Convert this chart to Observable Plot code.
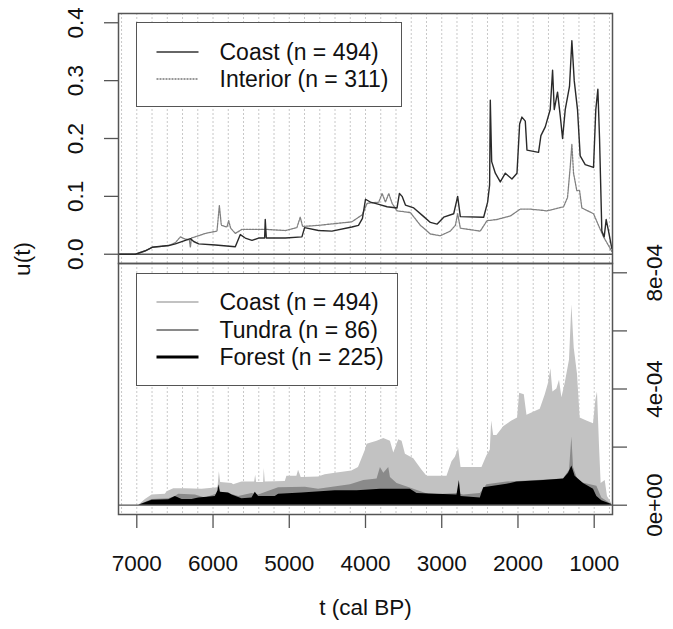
<!DOCTYPE html>
<html>
<head>
<meta charset="utf-8">
<script src="https://cdn.jsdelivr.net/npm/d3@7"></script>
<script src="https://cdn.jsdelivr.net/npm/@observablehq/plot@0.6"></script>
<style>
  body { margin: 0; background: #fff; font-family: "Liberation Sans", Arial, sans-serif; }
  #wrap { position: relative; width: 673px; height: 629px; overflow: hidden; background: #fff; }
  #wrap svg { position: absolute; left: 0; }
  .legend { position: absolute; background: #fff; border: 1.5px solid #555; box-sizing: border-box; font-size: 23px; color: #111; z-index: 5; }
  .row { position: absolute; left: 0; height: 28px; line-height: 28px; white-space: nowrap; width: 100%; }
  .ylab { position: absolute; font-size: 22.5px; color: #111; transform: translate(-50%, -50%) rotate(-90deg); white-space: nowrap; z-index: 5; }
</style>
</head>
<body>
<div id="wrap"></div>
<script>
// ---------- data (t in cal BP, u(t)) ----------
const coastTop = [[7236,0],[7018,0],[6887,0.006],[6799,0.012],[6581,0.015],[6494,0.018],[6363,0.024],[6297,0.027],[6254,0.022],[6188,0.018],[5970,0.016],[5708,0.013],[5642,0.034],[5577,0.028],[5489,0.024],[5402,0.028],[5323,0.028],[5315,0.06],[5301,0.028],[5052,0.028],[4834,0.03],[4799,0.046],[4616,0.041],[4441,0.04],[4179,0.047],[4092,0.05],[4040,0.062],[4000,0.095],[3960,0.092],[3935,0.09],[3848,0.087],[3717,0.082],[3586,0.08],[3555,0.105],[3520,0.1],[3476,0.085],[3367,0.08],[3236,0.065],[3149,0.055],[3062,0.052],[2974,0.064],[2843,0.07],[2791,0.1],[2756,0.065],[2450,0.064],[2398,0.09],[2372,0.12],[2363,0.266],[2345,0.16],[2297,0.14],[2232,0.125],[2166,0.14],[2079,0.13],[2013,0.14],[1978,0.225],[1948,0.237],[1904,0.23],[1882,0.18],[1730,0.176],[1699,0.205],[1642,0.22],[1577,0.25],[1546,0.318],[1524,0.25],[1481,0.28],[1446,0.24],[1415,0.2],[1380,0.25],[1324,0.29],[1293,0.369],[1262,0.3],[1219,0.25],[1184,0.17],[1118,0.155],[1009,0.15],[979,0.25],[952,0.285],[930,0.2],[900,0.04],[869,0.03],[843,0.06],[812,0.04],[769,0.01]];

const interiorTop = [[7236,0],[7018,0],[6887,0.006],[6799,0.012],[6581,0.015],[6494,0.02],[6428,0.03],[6363,0.026],[6310,0.025],[6297,0.012],[6284,0.028],[6188,0.032],[6101,0.036],[5948,0.04],[5917,0.084],[5891,0.05],[5817,0.047],[5795,0.058],[5769,0.045],[5708,0.036],[5620,0.043],[5315,0.043],[5052,0.041],[4900,0.046],[4856,0.064],[4825,0.048],[4616,0.05],[4397,0.053],[4179,0.056],[4044,0.068],[3979,0.088],[3826,0.09],[3782,0.105],[3738,0.09],[3695,0.105],[3651,0.088],[3586,0.075],[3411,0.072],[3280,0.05],[3149,0.035],[3018,0.032],[2887,0.04],[2821,0.05],[2791,0.07],[2756,0.045],[2494,0.04],[2407,0.058],[2276,0.06],[2101,0.066],[1970,0.078],[1839,0.078],[1620,0.075],[1402,0.082],[1350,0.098],[1315,0.15],[1293,0.19],[1271,0.14],[1228,0.11],[1192,0.11],[1162,0.08],[1009,0.07],[944,0.05],[878,0.03],[812,0.015],[769,0.005]];

// bottom panel values in units of 1e-4
const coastArea = [[7236,0],[6974,0],[6887,0.2],[6799,0.35],[6625,0.38],[6603,0.46],[6515,0.57],[6363,0.57],[6145,0.55],[5935,0.6],[5917,1.15],[5900,0.78],[5751,0.75],[5730,0.7],[5620,0.8],[5454,0.8],[5441,1.03],[5428,0.78],[5336,0.78],[5328,1.26],[5315,0.8],[5052,0.82],[5031,1.0],[4900,1.0],[4878,1.2],[4843,0.95],[4616,0.97],[4529,1.05],[4397,1.1],[4179,1.18],[4092,1.3],[4000,1.9],[3979,2.1],[3848,2.2],[3760,2.3],[3673,2.2],[3629,1.8],[3564,2.25],[3520,2.2],[3476,1.75],[3367,1.6],[3258,1.2],[3193,1.0],[2931,1.0],[2865,1.5],[2821,1.65],[2778,1.95],[2747,1.3],[2472,1.3],[2407,1.7],[2363,1.9],[2345,2.9],[2319,2.4],[2276,2.4],[2188,2.7],[2079,2.9],[2005,3.0],[1978,3.85],[1917,3.8],[1882,3.1],[1708,3.3],[1642,3.8],[1599,4.2],[1568,4.7],[1542,3.9],[1490,4.0],[1455,4.3],[1424,3.7],[1380,4.2],[1324,5.0],[1293,6.9],[1262,5.4],[1219,4.5],[1184,3.0],[1097,2.9],[1009,2.8],[979,3.6],[957,3.9],[930,2.0],[909,0.75],[856,0.85],[826,0.3],[769,0.05]];

const tundraArea = [[7236,0],[6974,0],[6799,0.2],[6581,0.22],[6494,0.3],[6450,0.38],[6232,0.35],[6101,0.25],[5926,0.4],[5913,0.7],[5900,0.45],[5795,0.4],[5664,0.3],[5489,0.4],[5402,0.35],[5140,0.6],[4790,0.62],[4616,0.55],[4197,0.7],[4022,0.85],[3848,0.9],[3804,1.3],[3760,1.1],[3695,1.3],[3673,0.95],[3586,0.75],[3367,0.55],[3149,0.35],[2800,0.4],[2712,0.35],[2494,0.4],[2407,0.7],[2145,0.8],[1752,0.85],[1402,0.9],[1324,1.2],[1293,2.35],[1271,1.3],[1206,0.8],[965,0.65],[900,0.25],[769,0.02]];

const forestArea = [[7236,0],[6974,0],[6799,0.17],[6581,0.19],[6494,0.3],[6406,0.2],[6275,0.2],[6188,0.25],[5970,0.3],[5935,0.5],[5926,0.7],[5904,0.45],[5795,0.42],[5751,0.35],[5620,0.22],[5489,0.25],[5446,0.45],[5402,0.3],[5184,0.3],[5140,0.38],[4834,0.42],[4397,0.5],[4109,0.5],[3804,0.55],[3411,0.55],[3324,0.4],[2800,0.35],[2769,0.85],[2747,0.3],[2494,0.25],[2450,0.6],[2145,0.72],[2013,0.8],[1664,0.85],[1402,0.9],[1337,1.1],[1293,1.35],[1250,1.0],[1140,0.75],[1009,0.55],[965,0.3],[900,0.15],[769,0.02]];

const xTicks = [7000, 6000, 5000, 4000, 3000, 2000, 1000];
const xTickLabels = ["7000", "6000", "5000", "4000", "3000", "2000", "1000"];
const gridT = [7200, 7000, 6800, 6600, 6400, 6200, 6000, 5800, 5600, 5400, 5200, 5000, 4800, 4600, 4400, 4200, 4000, 3800, 3600, 3400, 3200, 3000, 2800, 2600, 2400, 2200, 2000, 1800, 1600, 1400, 1200, 1000, 800];
const topYTicks = [0, 0.1, 0.2, 0.3, 0.4];
const topYLabels = ["0.0", "0.1", "0.2", "0.3", "0.4"];
const botYTicks = [0, 2, 4, 6, 8];            // x 1e-4
const botYLabelTicks = [0, 4, 8];
const botYLabels = ["0e+00", "4e-04", "8e-04"];

const topLegend = [
  {label: "Coast (n = 494)", stroke: "#333", width: 1.5, dash: null},
  {label: "Interior (n = 311)", stroke: "#777", width: 1.5, dash: "2,1"}
];
const bottomLegend = [
  {label: "Coast (n = 494)", stroke: "#c2c2c2", width: 2, dash: null},
  {label: "Tundra (n = 86)", stroke: "#8a8a8a", width: 2, dash: null},
  {label: "Forest (n = 225)", stroke: "#000", width: 3, dash: null}
];

// ---------- build ----------
const rows = arr => arr.map(([t, u]) => ({t, u}));
const axisCol = "#555";
const font = "'Liberation Sans', Arial, sans-serif";
const baseStyle = {fontFamily: font, fontSize: "22.5px", color: "#111", background: "transparent", overflow: "visible"};

const topPlot = Plot.plot({
  width: 673, height: 263,
  marginTop: 13, marginBottom: 0, marginLeft: 118, marginRight: 61,
  x: {domain: [7240, 760], axis: null},
  y: {domain: [-0.016, 0.416]},
  style: baseStyle,
  marks: [
    Plot.ruleX(gridT, {stroke: "#c8c8c8", strokeWidth: 1, strokeDasharray: "2,2"}),
    Plot.ruleY([0], {stroke: axisCol, strokeWidth: 1.3}),
    Plot.line(rows(interiorTop), {x: "t", y: "u", stroke: "#808080", strokeWidth: 1.3, strokeDasharray: "2,1"}),
    Plot.line(rows(coastTop), {x: "t", y: "u", stroke: "#2a2a2a", strokeWidth: 1.4}),
    Plot.axisY(topYTicks, {anchor: "left", tickSize: 14, stroke: axisCol, strokeWidth: 1.3, fill: "none", label: null}),
    Plot.text(topYTicks, {y: d => d, text: (d, i) => topYLabels[i], frameAnchor: "left", dx: -43, rotate: -90, textAnchor: "middle", lineAnchor: "middle", fontSize: 22.5, fill: "#111"}),
    Plot.frame({stroke: axisCol, strokeWidth: 1.5})
  ]
});
topPlot.style.top = "0px";

const botPlot = Plot.plot({
  width: 673, height: 366,
  marginTop: 0, marginBottom: 115, marginLeft: 118, marginRight: 61,
  x: {domain: [7240, 760]},
  y: {domain: [-0.32, 8.32]},
  style: baseStyle,
  marks: [
    Plot.ruleX(gridT, {stroke: "#c8c8c8", strokeWidth: 1, strokeDasharray: "2,2"}),
    Plot.areaY(rows(coastArea), {x: "t", y: "u", fill: "#c2c2c2"}),
    Plot.areaY(rows(tundraArea), {x: "t", y: "u", fill: "#8a8a8a"}),
    Plot.areaY(rows(forestArea), {x: "t", y: "u", fill: "#000"}),
    Plot.ruleY([0], {stroke: axisCol, strokeWidth: 1.3}),
    Plot.axisX(xTicks, {anchor: "bottom", tickSize: 14, stroke: axisCol, strokeWidth: 1.3, fill: "none", label: null}),
    Plot.text(xTicks, {x: d => d, text: (d, i) => xTickLabels[i], frameAnchor: "bottom", dy: 49, textAnchor: "middle", lineAnchor: "middle", fontSize: 22.5, fill: "#111"}),
    Plot.text(["t (cal BP)"], {text: d => d, frameAnchor: "bottom", dy: 93, textAnchor: "middle", lineAnchor: "middle", fontSize: 22.5, fill: "#111"}),
    Plot.axisY(botYTicks, {anchor: "right", tickSize: 14, stroke: axisCol, strokeWidth: 1.3, fill: "none", label: null}),
    Plot.text(botYLabelTicks, {y: d => d, text: (d, i) => botYLabels[i], frameAnchor: "right", dx: 42, rotate: -90, textAnchor: "middle", lineAnchor: "middle", fontSize: 22.5, fill: "#111"}),
    Plot.frame({stroke: axisCol, strokeWidth: 1.5})
  ]
});
botPlot.style.top = "263px";

const wrap = document.getElementById("wrap");
wrap.appendChild(topPlot);
wrap.appendChild(botPlot);

function legend(items, box, rowYs) {
  const div = document.createElement("div");
  div.className = "legend";
  Object.assign(div.style, {left: box.left + "px", top: box.top + "px", width: box.w + "px", height: box.h + "px"});
  items.forEach((it, i) => {
    const row = document.createElement("div");
    row.className = "row";
    row.style.top = (rowYs[i] - 14) + "px";
    row.innerHTML =
      `<svg width="66" height="28" style="position:absolute;left:0;top:0"><line x1="19.5" x2="61.5" y1="14" y2="14" stroke="${it.stroke}" stroke-width="${it.width}"${it.dash ? ` stroke-dasharray="${it.dash}"` : ""}/></svg>` +
      `<span style="position:absolute;left:82.5px;top:0">${it.label}</span>`;
    div.appendChild(row);
  });
  wrap.appendChild(div);
}
legend(topLegend, {left: 136, top: 22, w: 266, h: 85}, [28.5, 55.5]);
legend(bottomLegend, {left: 136, top: 273, w: 262, h: 113}, [27.5, 55.5, 82.5]);

const yl = document.createElement("div");
yl.className = "ylab";
yl.textContent = "u(t)";
Object.assign(yl.style, {left: "23px", top: "259px"});
wrap.appendChild(yl);
</script>
</body>
</html>
